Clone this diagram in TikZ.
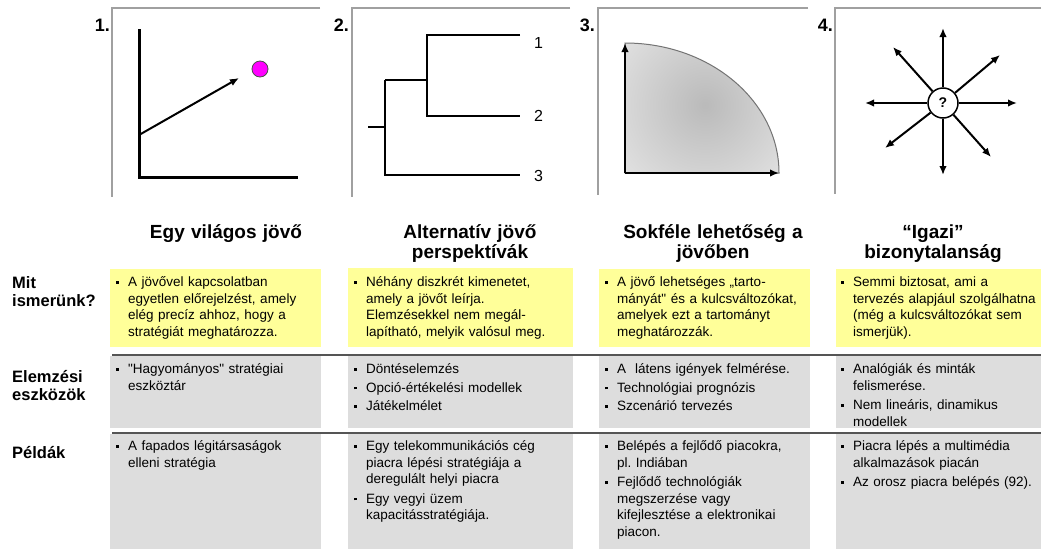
\documentclass[tikz,border=0pt]{standalone}
\usepackage{fontspec}
\setmainfont{Liberation Sans}[Ligatures=TeXOff]
\usetikzlibrary{arrows.meta}

\definecolor{notecol}{HTML}{FFFF99}
\definecolor{cellgray}{HTML}{DDDDDD}
\definecolor{framegray}{HTML}{A0A0A0}
\definecolor{rulegray}{HTML}{555555}
\definecolor{dotmag}{HTML}{FF00FF}

% bullet marker and continuation indent for the cell lists
\newcommand{\bx}{\makebox[12pt][l]{\raisebox{2.6pt}{\rule{2.8pt}{2.8pt}}}}
\newcommand{\ind}{\hspace*{12pt}}
\frenchspacing

\begin{document}
\begin{tikzpicture}[x=1pt,y=-1pt,
  frame/.style={draw=framegray,line width=1.5pt},
  num/.style={font=\fontsize{18}{20}\selectfont\bfseries,anchor=base east,inner sep=0pt},
  title/.style={font=\fontsize{19}{20}\selectfont\bfseries,align=center,text width=260pt,anchor=base,inner sep=0pt},
  rowlab/.style={font=\fontsize{16.5}{18.5}\selectfont\bfseries,align=left,text width=100pt,anchor=base west,inner sep=0pt},
  celltext/.style={font=\fontsize{13.5}{16.5}\selectfont,align=left,text width=240pt,anchor=base west,inner sep=0pt},
  axisline/.style={line width=3pt},
  branch/.style={line width=2.6pt},
  twig/.style={line width=2pt},
  arr/.style={line width=2pt,-{Latex[length=9pt,width=7.5pt]}},
  divider/.style={draw=rulegray,line width=1.5pt},
  leaf/.style={font=\fontsize{16}{18}\selectfont,anchor=west,inner sep=0pt}
]
\useasboundingbox (0,0) rectangle (1043,549);
\fill[white] (0,0) rectangle (1043,549);

% ---------- panel frames and numbers ----------
\draw[frame] (320,8) -- (112,8) -- (112,197);
\draw[frame] (570,8) -- (352,8) -- (352,197);
\draw[frame] (808,8) -- (598,8) -- (598,195);
\draw[frame] (1041,8) -- (835,8) -- (835,194);
\node[num] (n1) at (110,31) {1.};
\node[num] (n2) at (349,31) {2.};
\node[num] (n3) at (595,31) {3.};
\node[num] (n4) at (833,31) {4.};

% ---------- panel 1: one clear future ----------
\coordinate (p1top) at (139,29);
\coordinate (p1org) at (139,177);
\coordinate (p1end) at (298,177);
\coordinate (p1start) at (139,135);
\draw[axisline] (p1top) -- (p1org) -- (p1end);
\node[circle,fill=dotmag,draw=black!70,line width=0.8pt,minimum size=16pt,inner sep=0pt] (goal) at (260,69) {};
\coordinate (p1tip) at (239,78);
\draw[arr] (p1start) -- (p1tip);

% ---------- panel 2: alternative futures ----------
\coordinate (root) at (368,127);
\coordinate (fork) at (385,127);
\coordinate (forkT) at (385,80);
\coordinate (forkB) at (385,175);
\coordinate (sub) at (427,80);
\coordinate (subT) at (427,35);
\coordinate (subB) at (427,116);
\node[leaf] (l1) at (534,43) {1};
\node[leaf] (l2) at (534,116) {2};
\node[leaf] (l3) at (534,176) {3};
\coordinate (e1) at (520,35);
\coordinate (e2) at (520,116);
\coordinate (e3) at (520,175);
\draw[twig] (root) -- (fork);
\draw[twig] (forkT) -- (forkB) -- (e3);
\draw[branch] (forkT) -- (sub);
\draw[branch] (e1) -- (subT) -- (subB) -- (e2);

% ---------- panel 3: range of futures ----------
\coordinate (qO) at (625,173);
\coordinate (qX) at (779,173);
\coordinate (qY) at (625,43);
\begin{scope}
  \clip (qO) -- (qX) .. controls (779,101.2) and (710.1,43) .. (qY) -- cycle;
  \fill[black!9] (600,30) rectangle (790,180);
  \shade[inner color=black!27,outer color=black!9] (705,105) circle (125);
\end{scope}
\draw[draw=black!55,line width=1pt] (qO) -- (qX) .. controls (779,101.2) and (710.1,43) .. (qY) -- cycle;
\draw[arr] (qO) -- (qY);
\draw[arr] (qO) -- (qX);

% ---------- panel 4: true ambiguity ----------
\node[circle,draw=black,fill=white,line width=1.5pt,minimum size=30pt,inner sep=0pt,
      font=\fontsize{14}{16}\selectfont\bfseries] (q) at (943,103) {?};
\coordinate (dN) at (943,28);
\coordinate (dS) at (943,175);
\coordinate (dW) at (865,103);
\coordinate (dE) at (1017,103);
\coordinate (dNW) at (893,47);
\coordinate (dNE) at (1000,55);
\coordinate (dSW) at (885,148);
\coordinate (dSE) at (991,157);
\foreach \d in {dN,dS,dW,dE,dNW,dNE,dSW,dSE} \draw[arr] (q) -- (\d);

% ---------- column titles ----------
\node[title] (t1) at (226,238.5) {Egy világos jövő};
\node[title] (t2) at (470,238.5) {Alternatív jövő\\perspektívák};
\node[title] (t3) at (713,238.5) {Sokféle lehetőség a\\jövőben};
\node[title] (t4) at (933,238.5) {“Igazi”\\bizonytalanság};

% ---------- row labels ----------
\node[rowlab] (r1) at (12,288) {Mit\\ismerünk?};
\node[rowlab] (r2) at (12,382) {Elemzési\\eszközök};
\node[rowlab] (r3) at (12,458) {Példák};

% ---------- cell backgrounds ----------
\fill[notecol] (110,269) rectangle (321,347);
\fill[notecol] (348,268) rectangle (573,347);
\fill[notecol] (599,269) rectangle (810,347);
\fill[notecol] (836,269) rectangle (1041,347);
\foreach \a/\b in {110/321,348/573,599/810,836/1041} {
  \fill[cellgray] (\a,356) rectangle (\b,428);
  \fill[cellgray] (\a,434) rectangle (\b,549);
}
\draw[divider] (112,355) -- (1041,355);
\draw[divider] (112,433) -- (1041,433);

% ---------- row 1: what we know ----------
\node[celltext] (c11) at (116,286.5) {\bx A jövővel kapcsolatban\\\ind egyetlen előrejelzést, amely\\\ind elég precíz ahhoz, hogy a\\\ind stratégiát meghatározza.};
\node[celltext] (c12) at (354,286.5) {\bx Néhány diszkrét kimenetet,\\\ind amely a jövőt leírja.\\\ind Elemzésekkel nem megál-\\\ind lapítható, melyik valósul meg.};
\node[celltext] (c13) at (605,286.5) {\bx A jövő lehetséges „tarto-\\\ind mányát" és a kulcsváltozókat,\\\ind amelyek ezt a tartományt\\\ind meghatározzák.};
\node[celltext] (c14) at (841,286.5) {\bx Semmi biztosat, ami a\\\ind tervezés alapjául szolgálhatna\\\ind (még a kulcsváltozókat sem\\\ind ismerjük).};

% ---------- row 2: analysis tools ----------
\node[celltext] (c21) at (116,373.5) {\bx "Hagyományos" stratégiai\\\ind eszköztár};
\node[celltext] (c22) at (354,373.5) {\bx Döntéselemzés\\[2pt]\bx Opció-értékelési modellek\\[2pt]\bx Játékelmélet};
\node[celltext] (c23) at (605,373.5) {\bx A\ \ látens igények felmérése.\\[2pt]\bx Technológiai prognózis\\[2pt]\bx Szcenárió tervezés};
\node[celltext] (c24) at (841,373.5) {\bx Analógiák és minták\\\ind felismerése.\\[3pt]\bx Nem lineáris, dinamikus\\\ind modellek};

% ---------- row 3: examples ----------
\node[celltext] (c31) at (116,450.5) {\bx A fapados légitársaságok\\\ind elleni stratégia};
\node[celltext] (c32) at (354,450.5) {\bx Egy telekommunikációs cég\\\ind piacra lépési stratégiája a\\\ind deregulált helyi piacra\\[3pt]\bx Egy vegyi üzem\\\ind kapacitásstratégiája.};
\node[celltext] (c33) at (605,450.5) {\bx Belépés a fejlődő piacokra,\\\ind pl. Indiában\\[3pt]\bx Fejlődő technológiák\\\ind megszerzése vagy\\\ind kifejlesztése a elektronikai\\\ind piacon.};
\node[celltext] (c34) at (841,450.5) {\bx Piacra lépés a multimédia\\\ind alkalmazások piacán\\[3pt]\bx Az orosz piacra belépés (92).};
\end{tikzpicture}
\end{document}
